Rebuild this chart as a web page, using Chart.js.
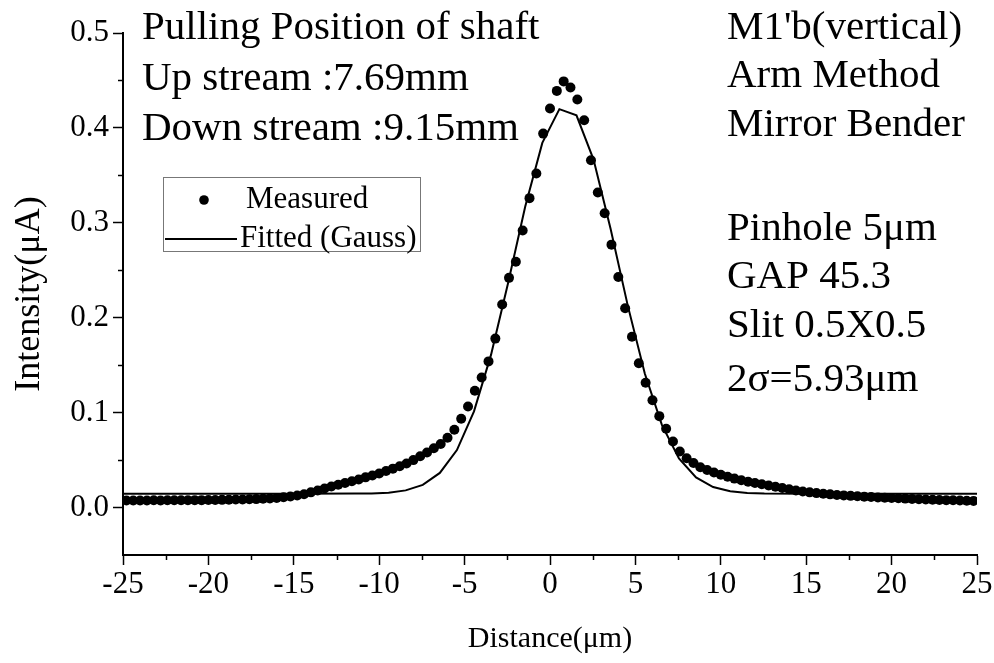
<!DOCTYPE html>
<html>
<head>
<meta charset="utf-8">
<script src="https://cdn.jsdelivr.net/npm/chart.js@4.4.1/dist/chart.umd.min.js"></script>
<style>
  html, body { margin: 0; padding: 0; background: #fff; }
  #wrap { width: 994px; height: 663px; }
</style>
</head>
<body>
<div id="wrap"><canvas id="c" width="994" height="663"></canvas></div>
<script>
// ---- data ----
const measuredX = [
  -24.8,-24.4,-24.0,-23.6,-23.2,-22.8,-22.4,-22.0,-21.6,-21.2,-20.8,-20.4,-20.0,-19.6,-19.2,-18.8,-18.4,-18.0,-17.6,-17.2,
  -16.8,-16.4,-16.0,-15.6,-15.2,-14.8,-14.4,-14.0,-13.6,-13.2,-12.8,-12.4,-12.0,-11.6,-11.2,-10.8,-10.4,-10.0,-9.6,-9.2,
  -8.8,-8.4,-8.0,-7.6,-7.2,-6.8,-6.4,-6.0,-5.6,-5.2,-4.8,-4.4,-4.0,-3.6,-3.2,-2.8,-2.4,-2.0,-1.6,-1.2,
  -0.8,-0.4,0.0,0.4,0.8,1.2,1.6,2.0,2.4,2.8,3.2,3.6,4.0,4.4,4.8,5.2,5.6,6.0,6.4,6.8,
  7.2,7.6,8.0,8.4,8.8,9.2,9.6,10.0,10.4,10.8,11.2,11.6,12.0,12.4,12.8,13.2,13.6,14.0,14.4,14.8,
  15.2,15.6,16.0,16.4,16.8,17.2,17.6,18.0,18.4,18.8,19.2,19.6,20.0,20.4,20.8,21.2,21.6,22.0,22.4,22.8,
  23.2,23.6,24.0,24.4,24.8
];
const measuredY = [
  0.0075,0.0074,0.0075,0.0074,0.0076,0.0075,0.0076,0.0077,0.0076,0.0077,0.0078,0.0078,0.0079,0.0080,0.0081,0.0082,0.0084,0.0085,0.0087,0.0089,
  0.0092,0.0096,0.0101,0.0108,0.0116,0.0126,0.0140,0.0160,0.0180,0.0200,0.0222,0.0240,0.0258,0.0278,0.0295,0.0318,0.0338,0.0358,0.0385,0.0410,
  0.0435,0.0465,0.0500,0.0540,0.0580,0.0625,0.0670,0.0735,0.0820,0.0935,0.1065,0.1230,0.1370,0.1540,0.1780,0.2140,0.2420,0.2590,0.2920,0.3260,
  0.3520,0.3940,0.4205,0.4390,0.4490,0.4425,0.4300,0.4080,0.3660,0.3320,0.3100,0.2770,0.2430,0.2100,0.1800,0.1520,0.1315,0.1130,0.0963,0.0830,
  0.0696,0.0590,0.0520,0.0470,0.0425,0.0395,0.0370,0.0345,0.0325,0.0305,0.0288,0.0272,0.0258,0.0245,0.0232,0.0220,0.0205,0.0192,0.0180,0.0170,
  0.0160,0.0152,0.0145,0.0139,0.0133,0.0128,0.0123,0.0119,0.0115,0.0111,0.0107,0.0103,0.0100,0.0097,0.0094,0.0091,0.0088,0.0085,0.0083,0.0080,
  0.0078,0.0076,0.0074,0.0072,0.0070
];
const fittedX = [-25,-15,-11.45,-10.45,-9.45,-8.45,-7.45,-6.45,-5.45,-4.45,-3.45,-2.45,-1.45,-0.45,0.55,1.55,2.55,3.55,4.55,5.55,6.55,7.55,8.55,9.55,10.55,11.55,12.55,15,25];
const fittedY = [0.0145,0.0145,0.0147,0.0149,0.0157,0.0181,0.0239,0.0365,0.0606,0.1013,0.1611,0.2369,0.3172,0.3842,0.4198,0.4133,0.3666,0.2936,0.2130,0.1412,0.0871,0.0518,0.0317,0.0216,0.0172,0.0154,0.0147,0.0145,0.0145];

const xMajorTicks = [-25,-20,-15,-10,-5,0,5,10,15,20,25];
const xMinorTicks = [-22.5,-17.5,-12.5,-7.5,-2.5,2.5,7.5,12.5,17.5,22.5];
const yMajorTicks = [0.0,0.1,0.2,0.3,0.4,0.5];
const yMinorTicks = [0.05,0.15,0.25,0.35,0.45];

const seriesNames = ['Measured', 'Fitted (Gauss)'];
const xTitle = 'Distance(μm)';
const yTitle = 'Intensity(μA)';
const leftNotes = ['Pulling Position of shaft', 'Up stream :7.69mm', 'Down stream :9.15mm'];
const rightNotes = ["M1'b(vertical)", 'Arm Method', 'Mirror Bender', '', 'Pinhole 5μm', 'GAP 45.3', 'Slit 0.5X0.5', '2σ=5.93μm'];

// ---- chart ----
const FONT = '"Liberation Serif", "Times New Roman", serif';

const measuredData = measuredX.map((x, i) => ({ x: x, y: measuredY[i] }));
const fittedData = fittedX.map((x, i) => ({ x: x, y: fittedY[i] }));

const decorPlugin = {
  id: 'decor',
  afterDraw(chart) {
    const ctx = chart.ctx;
    const xs = chart.scales.x, ys = chart.scales.y;
    const area = chart.chartArea;
    ctx.save();
    ctx.strokeStyle = '#000';
    ctx.lineWidth = 1.5;
    // minor ticks
    xMinorTicks.forEach(v => {
      const px = Math.round(xs.getPixelForValue(v)) + 0.5;
      ctx.beginPath(); ctx.moveTo(px, area.bottom); ctx.lineTo(px, area.bottom + 5); ctx.stroke();
    });
    yMinorTicks.forEach(v => {
      const py = Math.round(ys.getPixelForValue(v)) + 0.5;
      ctx.beginPath(); ctx.moveTo(area.left, py); ctx.lineTo(area.left - 5, py); ctx.stroke();
    });
    // annotations
    ctx.fillStyle = '#000';
    ctx.textBaseline = 'middle';
    ctx.textAlign = 'left';
    ctx.font = '41px ' + FONT;
    const leftY = [28, 79, 129];
    leftNotes.forEach((t, i) => ctx.fillText(t, 142, leftY[i]));
    const rightY = [28, 76, 125, 176, 229, 277, 326, 380];
    rightNotes.forEach((t, i) => { if (t) ctx.fillText(t, 727, rightY[i]); });
    // legend
    ctx.strokeStyle = '#777';
    ctx.lineWidth = 1;
    ctx.strokeRect(163.5, 177.5, 257, 74);
    ctx.fillStyle = '#000';
    ctx.beginPath(); ctx.arc(204, 200, 4.8, 0, Math.PI * 2); ctx.fill();
    ctx.strokeStyle = '#000';
    ctx.lineWidth = 2;
    ctx.beginPath(); ctx.moveTo(165, 239); ctx.lineTo(237, 239); ctx.stroke();
    ctx.font = '31px ' + FONT;
    ctx.fillText(seriesNames[0], 246, 200);
    ctx.fillText(seriesNames[1], 240, 239);
    ctx.restore();
  }
};

new Chart(document.getElementById('c'), {
  type: 'scatter',
  data: {
    datasets: [
      {
        label: seriesNames[0],
        data: measuredData,
        showLine: false,
        pointRadius: 5,
        pointHoverRadius: 5,
        pointBackgroundColor: '#000',
        pointBorderColor: '#000',
        pointBorderWidth: 0
      },
      {
        label: seriesNames[1],
        data: fittedData,
        showLine: true,
        borderColor: '#000',
        borderWidth: 2,
        pointRadius: 0,
        tension: 0,
        fill: false
      }
    ]
  },
  options: {
    responsive: false,
    animation: false,
    devicePixelRatio: 1,
    layout: { padding: { top: 33, right: 17, left: 0, bottom: 0 } },
    plugins: { legend: { display: false }, tooltip: { enabled: false } },
    scales: {
      x: {
        type: 'linear',
        min: -25, max: 25,
        afterBuildTicks: s => { s.ticks = xMajorTicks.map(v => ({ value: v })); },
        afterFit: s => { s.height = 108; },
        ticks: { color: '#000', font: { family: FONT, size: 31 }, padding: 1, maxRotation: 0, autoSkip: false },
        grid: { drawOnChartArea: false, drawTicks: true, tickLength: 10, tickColor: '#000', tickWidth: 1.5 },
        border: { color: '#000', width: 2 },
        title: { display: true, text: xTitle, color: '#000', font: { family: FONT, size: 30 }, padding: { top: 0, bottom: 6 } }
      },
      y: {
        type: 'linear',
        min: -0.05, max: 0.5,
        afterBuildTicks: s => { s.ticks = yMajorTicks.map(v => ({ value: v })); },
        afterFit: s => { s.width = 123; },
        ticks: { color: '#000', font: { family: FONT, size: 31 }, padding: 4, callback: v => v.toFixed(1) },
        grid: { drawOnChartArea: false, drawTicks: true, tickLength: 10, tickColor: '#000', tickWidth: 1.5 },
        border: { color: '#000', width: 2 },
        title: { display: true, text: yTitle, color: '#000', font: { family: FONT, size: 36 }, padding: { top: 8, bottom: 0 } }
      }
    }
  },
  plugins: [decorPlugin]
});
</script>
</body>
</html>
